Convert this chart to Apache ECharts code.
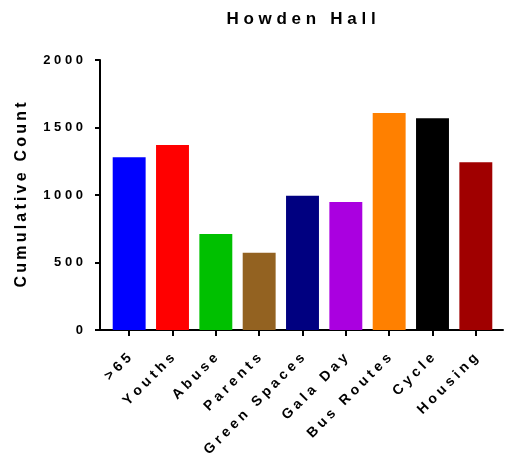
<!DOCTYPE html>
<html>
<head>
<meta charset="utf-8">
<script src="https://cdn.jsdelivr.net/npm/echarts@6/dist/echarts.min.js"></script>
<style>
  html, body { margin: 0; padding: 0; background: #fff; }
  #chart { width: 505px; height: 454px; }
</style>
</head>
<body>
<div id="chart"></div>
<script>
// ── 数据 ──
const categories = [">65", "Youths", "Abuse", "Parents", "Green Spaces", "Gala Day", "Bus Routes", "Cycle", "Housing"];
const counts = [1280, 1370, 712, 573, 995, 948, 1607, 1568, 1242];
const barColors = ["#0000FF", "#FF0000", "#00C000", "#936221", "#000080", "#AA00E0", "#FF8000", "#000000", "#A00000"];
const yTicks = [0, 500, 1000, 1500, 2000];

const FONT = "Liberation Sans";

// 模拟字间距：字符之间插入空白
function spaced(s, gap = " ") {
  return s.split(" ").map((w) => w.split("").join(gap)).join(gap + " " + gap);
}

const chart = echarts.init(document.getElementById("chart"));

chart.setOption({
  animation: false,
  title: {
    text: spaced("Howden Hall"),
    left: 296,
    top: 6,
    textAlign: "center",
    textStyle: { fontFamily: FONT, fontSize: 17, fontWeight: "bold", color: "#000" },
  },
  grid: [
    { left: 107.5, right: 7.5, top: 60, bottom: 124, outerBoundsMode: "none" },
    { left: 100, right: 2, top: 60, bottom: 124, outerBoundsMode: "none" },
  ],
  xAxis: [
    {
      type: "category",
      gridIndex: 0,
      data: categories,
      axisLine: { show: false },
      axisTick: { show: true, alignWithLabel: true, length: 6, lineStyle: { width: 2, color: "#000" } },
      axisLabel: {
        rotate: 45,
        margin: 26,
        interval: 0,
        fontFamily: FONT,
        fontSize: 14,
        fontWeight: "bold",
        color: "#000",
        formatter: (v) => spaced(v),
      },
    },
    {
      type: "value",
      gridIndex: 1,
      min: 0,
      max: 1,
      axisLine: { show: true, lineStyle: { width: 2, color: "#000" } },
      axisTick: { show: false },
      axisLabel: { show: false },
      splitLine: { show: false },
    },
  ],
  yAxis: [
    {
      type: "value",
      gridIndex: 0,
      min: yTicks[0],
      max: yTicks[yTicks.length - 1],
      interval: 500,
      offset: 7.5,
      name: spaced("Cumulative Count", "\u2009"),
      nameLocation: "middle",
      nameGap: 70,
      nameTextStyle: { fontFamily: FONT, fontSize: 16, fontWeight: "bold", color: "#000" },
      axisLine: { show: true, lineStyle: { width: 2, color: "#000" } },
      axisTick: { show: true, length: 5, lineStyle: { width: 2, color: "#000" } },
      axisLabel: {
        margin: 17,
        fontFamily: FONT,
        fontSize: 13,
        fontWeight: "bold",
        color: "#000",
        formatter: (v) => spaced(String(v)),
      },
      splitLine: { show: false },
    },
    {
      type: "value",
      gridIndex: 1,
      show: false,
    },
  ],
  series: [
    {
      type: "bar",
      xAxisIndex: 0,
      yAxisIndex: 0,
      barWidth: "76%",
      data: counts.map((v, i) => ({ value: v, itemStyle: { color: barColors[i] } })),
    },
  ],
});
</script>
</body>
</html>
